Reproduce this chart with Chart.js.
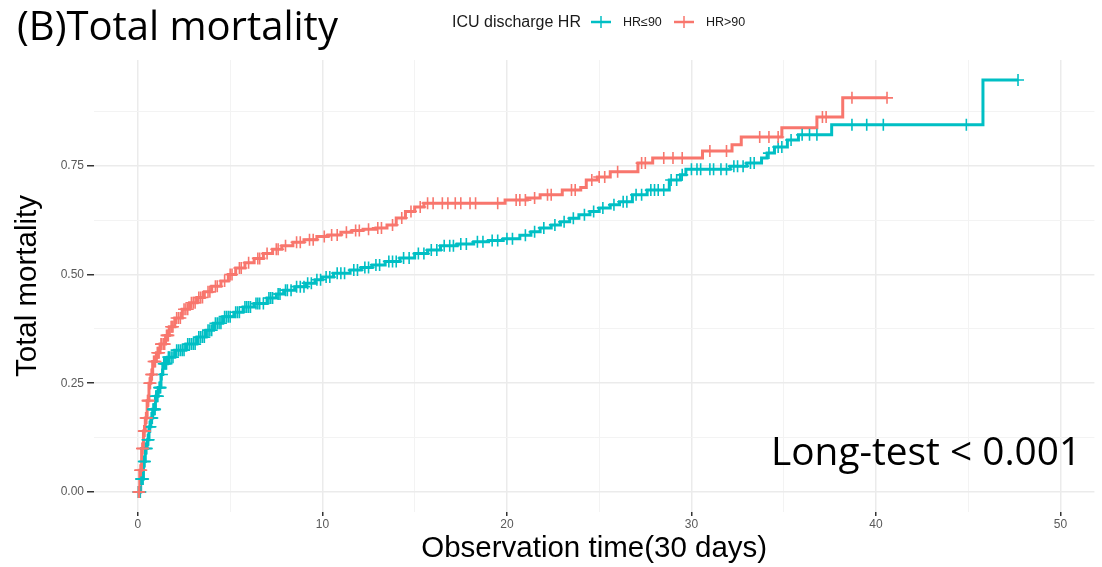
<!DOCTYPE html>
<html>
<head>
<meta charset="utf-8">
<script src="https://cdn.jsdelivr.net/npm/chart.js@4.4.1/dist/chart.umd.min.js"></script>
<style>
  html, body { margin: 0; padding: 0; background: #fff; }
  #wrap { position: relative; width: 1102px; height: 567px; overflow: hidden; }
  #chart { position: absolute; left: 0; top: 0; }
  .title { position: absolute; left: 17px; top: -3px; font-family: 'Open Sans', sans-serif; font-size: 40px; color: #000; white-space: nowrap; }
  .pval { position: absolute; left: 771px; top: 424px; font-family: 'Open Sans', sans-serif; font-size: 38.8px; color: #000; white-space: nowrap; }
  .legend { position: absolute; left: 452px; top: 12px; height: 20px; font-family: 'Liberation Sans', Arial, sans-serif; color: #1a1a1a; white-space: nowrap; }
  .legend span, .legend svg { position: absolute; top: 0; }
  .legend .head { left: 0; font-size: 16px; line-height: 20px; }
  .legend .lab { font-size: 12.5px; line-height: 20px; }
</style>
</head>
<body>
<div id="wrap">
  <canvas id="chart" width="1102" height="567"></canvas>
  <div class="title">(B)Total mortality</div>
  <div class="legend">
    <span class="head">ICU discharge HR</span>
    <svg style="left:138px" width="22" height="20" viewBox="0 0 22 20"><line x1="1" y1="10" x2="21" y2="10" stroke="#00BFC4" stroke-width="2.5"/><line x1="11" y1="4" x2="11" y2="16" stroke="#00BFC4" stroke-width="1.5"/></svg>
    <span class="lab" style="left:171px">HR≤90</span>
    <svg style="left:221px" width="22" height="20" viewBox="0 0 22 20"><line x1="1" y1="10" x2="21" y2="10" stroke="#F8766D" stroke-width="2.5"/><line x1="11" y1="4" x2="11" y2="16" stroke="#F8766D" stroke-width="1.5"/></svg>
    <span class="lab" style="left:254px">HR&gt;90</span>
  </div>
  <div class="pval">Long-test &lt; 0.001</div>
</div>
<script>
// ---- DATA ----
// Kaplan-Meier style steps: time (x 30 days) and cumulative mortality after the step
const lowTimes = [0, 0.15, 0.3, 0.4, 0.5, 0.6, 0.7, 0.8, 0.95, 1.1, 1.25, 1.35, 1.6, 2.0, 2.6, 3.2, 3.7, 4.1, 4.6, 5.2, 5.7, 6.3, 7.0, 7.5, 7.9, 8.5, 9.1, 9.6, 10.0, 10.6, 11.5, 12.1, 12.7, 13.4, 14.2, 15.0, 15.7, 16.4, 17.3, 18.2, 19.0, 19.8, 20.7, 21.3, 21.8, 22.4, 22.9, 23.4, 23.9, 24.5, 25.0, 25.6, 26.1, 26.8, 27.6, 28.8, 29.4, 29.7, 32.1, 33.0, 33.8, 34.1, 34.5, 35.2, 35.8, 37.6, 45.8, 47.7];
const lowValues = [0, 0.03, 0.07, 0.10, 0.12, 0.15, 0.17, 0.19, 0.22, 0.24, 0.27, 0.295, 0.31, 0.326, 0.34, 0.356, 0.372, 0.388, 0.403, 0.413, 0.425, 0.433, 0.446, 0.455, 0.464, 0.472, 0.48, 0.488, 0.494, 0.503, 0.51, 0.516, 0.522, 0.53, 0.538, 0.548, 0.556, 0.566, 0.57, 0.575, 0.578, 0.582, 0.59, 0.598, 0.607, 0.614, 0.621, 0.629, 0.637, 0.645, 0.653, 0.66, 0.667, 0.683, 0.694, 0.717, 0.729, 0.742, 0.749, 0.756, 0.768, 0.779, 0.793, 0.809, 0.821, 0.844, 0.947, 0.947];
const lowCensored = [0.02, 0.06, 0.1, 0.13, 0.17, 0.2, 0.23, 0.25, 0.28, 0.32, 0.35, 0.38, 0.42, 0.45, 0.48, 0.52, 0.55, 0.58, 0.62, 0.65, 0.68, 0.72, 0.75, 0.78, 0.82, 0.85, 0.88, 0.9, 0.93, 0.97, 1.0, 1.05, 1.08, 1.15, 1.2, 1.23, 1.3, 1.4, 1.45, 1.5, 1.55, 1.65, 1.7, 1.8, 1.9, 2.1, 2.2, 2.3, 2.4, 2.5, 2.7, 2.8, 2.9, 3.0, 3.1, 3.3, 3.4, 3.5, 3.6, 3.8, 3.9, 4.0, 4.2, 4.3, 4.4, 4.5, 4.7, 4.8, 4.9, 5.0, 5.3, 5.4, 5.5, 5.8, 5.9, 6.0, 6.1, 6.4, 6.5, 6.6, 6.8, 7.1, 7.2, 7.3, 7.6, 7.7, 8.0, 8.1, 8.3, 8.6, 8.8, 9.0, 9.2, 9.4, 9.7, 9.9, 10.2, 10.4, 10.8, 11.0, 11.2, 11.7, 11.9, 12.3, 12.5, 12.9, 13.1, 13.6, 13.8, 14.0, 14.4, 14.7, 15.2, 15.5, 15.9, 16.2, 16.6, 16.9, 17.1, 17.5, 17.8, 18.4, 18.7, 19.2, 19.5, 20.0, 20.3, 21.0, 21.5, 22.0, 22.6, 23.1, 23.6, 24.2, 24.7, 25.2, 25.8, 26.3, 26.5, 27.0, 27.3, 27.8, 28.0, 28.2, 28.5, 28.9, 29.2, 29.5, 30.0, 30.3, 30.5, 31.0, 31.2, 31.6, 31.9, 32.3, 32.5, 32.8, 33.2, 33.4, 34.2, 34.7, 34.9, 35.4, 36.0, 36.4, 36.8, 38.7, 39.5, 40.4, 44.9, 47.7];

const highTimes = [0, 0.1, 0.2, 0.3, 0.4, 0.5, 0.6, 0.7, 0.8, 1.0, 1.2, 1.5, 1.7, 2.0, 2.4, 2.8, 3.2, 3.6, 4.0, 4.5, 4.9, 5.3, 5.8, 6.3, 6.8, 7.3, 7.8, 8.4, 9.0, 9.7, 10.3, 11.0, 11.6, 12.2, 12.9, 13.5, 14.0, 14.5, 15.0, 15.5, 19.9, 21.1, 21.8, 23.0, 24.0, 24.3, 24.9, 25.6, 27.1, 27.9, 30.6, 32.2, 32.7, 34.9, 36.8, 38.2, 40.6];
const highValues = [0, 0.05, 0.10, 0.14, 0.17, 0.21, 0.25, 0.27, 0.30, 0.32, 0.34, 0.36, 0.38, 0.40, 0.42, 0.435, 0.447, 0.46, 0.473, 0.485, 0.50, 0.515, 0.527, 0.537, 0.548, 0.558, 0.566, 0.574, 0.58, 0.587, 0.591, 0.597, 0.601, 0.604, 0.607, 0.614, 0.63, 0.645, 0.655, 0.664, 0.671, 0.676, 0.683, 0.694, 0.70, 0.717, 0.724, 0.736, 0.756, 0.768, 0.784, 0.798, 0.816, 0.837, 0.862, 0.906, 0.906];
const highCensored = [0.03, 0.05, 0.08, 0.12, 0.15, 0.18, 0.22, 0.25, 0.27, 0.32, 0.35, 0.38, 0.42, 0.45, 0.48, 0.52, 0.55, 0.58, 0.62, 0.65, 0.68, 0.72, 0.75, 0.78, 0.85, 0.9, 0.95, 1.05, 1.1, 1.15, 1.25, 1.3, 1.4, 1.45, 1.55, 1.6, 1.65, 1.8, 1.85, 1.9, 2.1, 2.2, 2.3, 2.5, 2.6, 2.7, 2.9, 3.0, 3.1, 3.3, 3.4, 3.5, 3.8, 3.9, 4.2, 4.3, 4.7, 5.0, 5.1, 5.5, 5.6, 6.0, 6.5, 6.6, 7.0, 7.5, 7.6, 8.0, 8.6, 8.8, 9.3, 9.5, 10.1, 10.5, 10.8, 11.3, 11.8, 12.0, 12.5, 13.0, 13.2, 13.8, 14.3, 14.8, 15.3, 15.7, 16.0, 16.5, 16.8, 17.2, 17.5, 18.0, 18.3, 19.5, 20.5, 20.7, 21.0, 21.5, 22.2, 22.4, 23.5, 23.7, 24.6, 25.0, 25.3, 26.0, 27.3, 27.5, 28.5, 29.0, 29.5, 31.0, 31.9, 33.7, 34.2, 34.7, 37.1, 37.3, 38.7, 40.6];

const xMajor = [0, 10, 20, 30, 40, 50];
const xMinor = [5, 15, 25, 35, 45];
const yMajor = [0, 0.25, 0.5, 0.75];
const yMinor = [0.125, 0.375, 0.625, 0.875];
const yLabels = ['0.00', '0.25', '0.50', '0.75'];

const TEAL = '#00BFC4';
const RED = '#F8766D';

// ---- HELPERS ----
function stepPoints(times, values) {
  return times.map((t, i) => ({ x: t, y: values[i] }));
}

// value of the step curve at time t (marks sit on the curve)
function curveAt(times, values, t) {
  let v = values[0];
  for (let i = 0; i < times.length; i++) {
    if (times[i] <= t) v = values[i]; else break;
  }
  return v;
}

function censorPoints(times, values, cens) {
  return cens.map(t => ({ x: t, y: curveAt(times, values, t) }));
}

const isMajor = (list, v) => list.some(m => Math.abs(m - v) < 1e-9);

function tickList(major, minor) {
  return major.concat(minor).sort((a, b) => a - b).map(v => ({ value: v }));
}

// ---- CHART ----
const markStyle = (color) => ({
  showLine: false,
  pointStyle: 'cross',
  pointRadius: 6,
  pointBorderWidth: 1.6,
  pointBorderColor: color,
  pointBackgroundColor: color,
  pointHoverRadius: 6,
});

new Chart(document.getElementById('chart'), {
  type: 'line',
  data: {
    datasets: [
      { label: 'HR>90 censor', data: censorPoints(highTimes, highValues, highCensored), ...markStyle(RED) },
      { label: 'HR≤90 censor', data: censorPoints(lowTimes, lowValues, lowCensored), ...markStyle(TEAL) },
      { label: 'HR>90', data: stepPoints(highTimes, highValues), stepped: true, borderColor: RED, borderWidth: 3, pointRadius: 0, fill: false },
      { label: 'HR≤90', data: stepPoints(lowTimes, lowValues), stepped: true, borderColor: TEAL, borderWidth: 3, pointRadius: 0, fill: false },
    ]
  },
  options: {
    responsive: false,
    animation: false,
    events: [],
    layout: { padding: { left: 0, right: 2, top: 60, bottom: 0 } },
    plugins: { legend: { display: false }, tooltip: { enabled: false } },
    scales: {
      x: {
        type: 'linear',
        min: -2.38,
        max: 51.84,
        afterBuildTicks: axis => { axis.ticks = tickList(xMajor, xMinor); },
        afterFit: axis => { axis.height = 55; },
        border: { display: false },
        grid: {
          color: c => isMajor(xMajor, c.tick.value) ? '#EBEBEB' : '#F3F3F3',
          lineWidth: c => isMajor(xMajor, c.tick.value) ? 1.5 : 1,
          tickColor: c => isMajor(xMajor, c.tick.value) ? '#333333' : 'rgba(0,0,0,0)',
          tickLength: 4,
          tickWidth: 1.5,
        },
        ticks: {
          autoSkip: false,
          maxRotation: 0,
          padding: 1,
          color: '#595959',
          font: { family: 'Liberation Sans', size: 12 },
          callback: v => isMajor(xMajor, v) ? String(v) : '',
        },
        title: {
          display: true,
          text: 'Observation time(30 days)',
          color: '#000',
          font: { family: 'Liberation Sans', size: 29.5 },
          padding: { top: 0, bottom: 0 },
        },
      },
      y: {
        type: 'linear',
        min: -0.046,
        max: 0.993,
        afterBuildTicks: axis => { axis.ticks = tickList(yMajor, yMinor); },
        afterFit: axis => { axis.width = 94; },
        border: { display: false },
        grid: {
          color: c => isMajor(yMajor, c.tick.value) ? '#EBEBEB' : '#F3F3F3',
          lineWidth: c => isMajor(yMajor, c.tick.value) ? 1.5 : 1,
          tickColor: c => isMajor(yMajor, c.tick.value) ? '#333333' : 'rgba(0,0,0,0)',
          tickLength: 7,
          tickWidth: 1.5,
        },
        ticks: {
          autoSkip: false,
          padding: 3,
          color: '#595959',
          font: { family: 'Liberation Sans', size: 12 },
          callback: v => {
            const i = yMajor.findIndex(m => Math.abs(m - v) < 1e-9);
            return i >= 0 ? yLabels[i] : '';
          },
        },
        title: {
          display: true,
          text: 'Total mortality',
          color: '#000',
          font: { family: 'Liberation Sans', size: 29.5 },
          padding: { top: 10, bottom: 0 },
        },
      },
    },
  },
});
</script>
</body>
</html>
